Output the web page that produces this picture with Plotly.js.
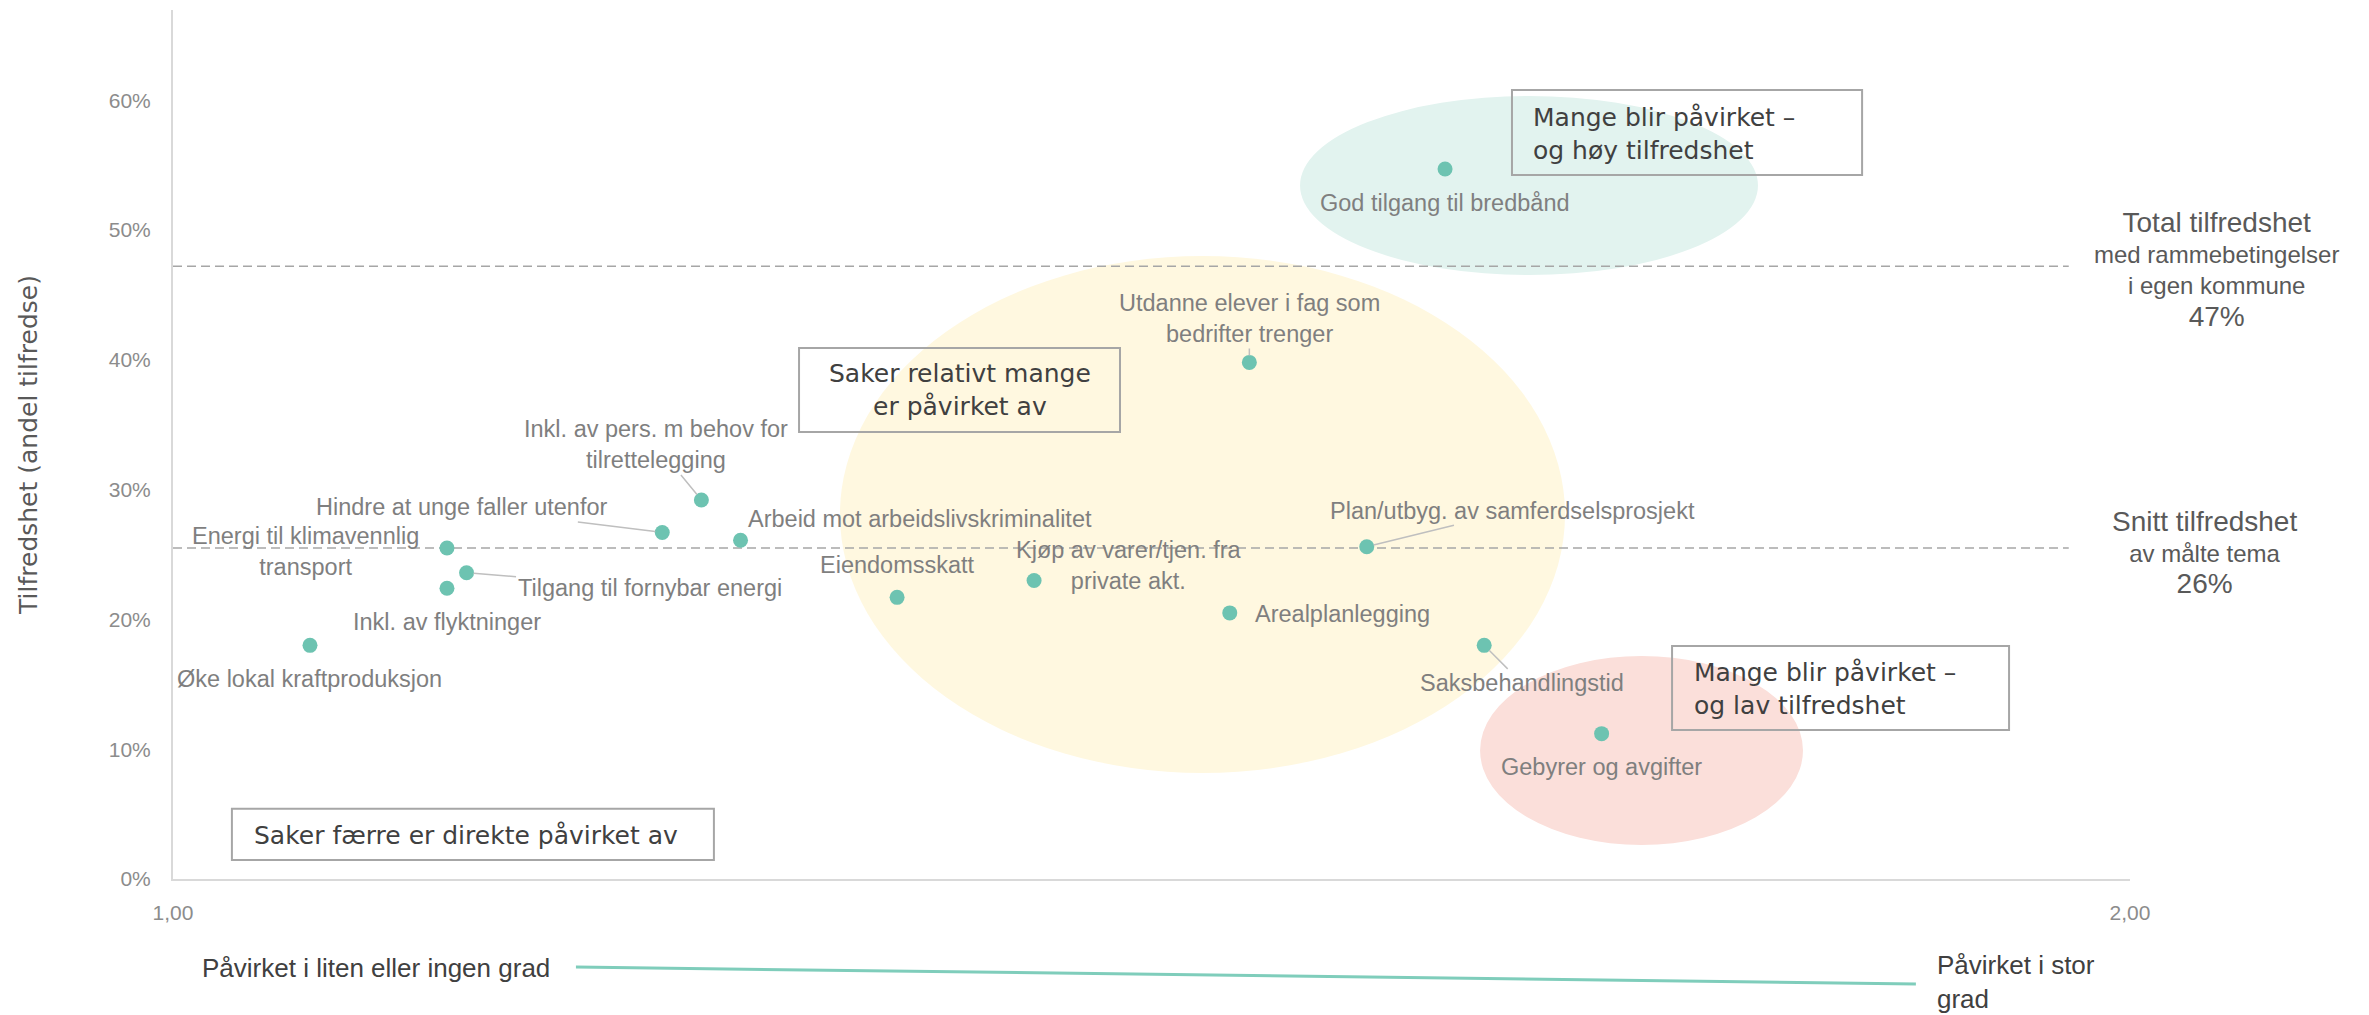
<!DOCTYPE html>
<html>
<head>
<meta charset="utf-8">
<script src="https://cdn.plot.ly/plotly-3.0.1.min.js"></script>
<style>
  html, body { margin: 0; padding: 0; background: #fff; }
  #chart { width: 2369px; height: 1015px; }
</style>
</head>
<body>
<div id="chart"></div>
<script>
// Saker: påvirkning (1-2) og andel tilfredse
const topics = [
    'God tilgang til bredbånd',
    'Utdanne elever i fag som<br>bedrifter trenger',
    'Inkl. av pers. m behov for<br>tilrettelegging',
    'Hindre at unge faller utenfor',
    'Arbeid mot arbeidslivskriminalitet',
    'Energi til klimavennlig<br>transport',
    'Tilgang til fornybar energi',
    'Inkl. av flyktninger',
    'Øke lokal kraftproduksjon',
    'Eiendomsskatt',
    'Kjøp av varer/tjen. fra<br>private akt.',
    'Arealplanlegging',
    'Plan/utbyg. av samferdselsprosjekt',
    'Saksbehandlingstid',
    'Gebyrer og avgifter'
];
const impact = [1.65, 1.55, 1.27, 1.25, 1.29, 1.14, 1.15, 1.14, 1.07, 1.37, 1.44, 1.54, 1.61, 1.67, 1.73];
const satisfaction = [0.547, 0.398, 0.292, 0.267, 0.261, 0.255, 0.236, 0.224, 0.180, 0.217, 0.230, 0.205, 0.256, 0.180, 0.112];

const totalSatisfaction = 0.472;
const avgSatisfaction = 0.255;
const yTicks = [0, 0.1, 0.2, 0.3, 0.4, 0.5, 0.6];
const xTicks = [1, 2];

// plassering av etiketter (px fra punktet) og om de har hjelpelinje
const labelPos = [
    [0, 34, false], [0, -44, true], [-45, -55, true], [-201, -25, true], [179, -21, false],
    [-141, 3, false], [183, 15, true], [0, 34, false], [0, 34, false], [0, -32, false],
    [95, -15, false], [113, 1, false], [146, -36, true], [38, 38, true], [0, 33, false]
];

const teal = '#6dc3b1';
const labelFont = { family: 'Liberation Sans, Arial, sans-serif', size: 23.5, color: '#7f7f7f' };
const boxFont = { family: 'DejaVu Sans, sans-serif', size: 25, color: '#404040' };
const sideFont = { family: 'Liberation Sans, Arial, sans-serif', size: 24, color: '#595959' };

const pointLabels = topics.map((t, i) => ({
    x: impact[i], y: satisfaction[i], xref: 'x', yref: 'y',
    text: t, showarrow: true, arrowhead: 0, arrowwidth: 1.5,
    arrowcolor: labelPos[i][2] ? '#bfbfbf' : 'rgba(0,0,0,0)',
    ax: labelPos[i][0], ay: labelPos[i][1], standoff: 7,
    align: 'center', font: labelFont
}));

const boxes = [
    { x0: 1.0301, x1: 1.2764, y0: 0.0146, y1: 0.0542 },
    { x0: 1.3199, x1: 1.4839, y0: 0.3444, y1: 0.4091 },
    { x0: 1.6842, x1: 1.8631, y0: 0.5424, y1: 0.6079 },
    { x0: 1.766, x1: 1.9382, y0: 0.1148, y1: 0.1795 }
];

const boxTexts = [
    { x: 1.0301, y: 0.0334, xshift: 20, xanchor: 'left', align: 'left', text: 'Saker færre er direkte påvirket av' },
    { x: 1.4019, y: 0.3768, xshift: 0, xanchor: 'center', align: 'center', text: 'Saker relativt mange<br>er påvirket av' },
    { x: 1.6842, y: 0.574, xshift: 19, xanchor: 'left', align: 'left', text: 'Mange blir påvirket –<br>og høy tilfredshet' },
    { x: 1.766, y: 0.1464, xshift: 20, xanchor: 'left', align: 'left', text: 'Mange blir påvirket –<br>og lav tilfredshet' }
].map(b => Object.assign({ xref: 'x', yref: 'y', showarrow: false, yanchor: 'middle', font: boxFont }, b));

const shapes = [
    { type: 'circle', xref: 'x', yref: 'y', x0: 1.5759, x1: 1.8099, y0: 0.4653, y1: 0.6032, fillcolor: '#e2f3ef', line: { width: 0 }, layer: 'below' },
    { type: 'circle', xref: 'x', yref: 'y', x0: 1.3408, x1: 1.7113, y0: 0.0817, y1: 0.48, fillcolor: '#fff8e0', line: { width: 0 }, layer: 'below' },
    { type: 'circle', xref: 'x', yref: 'y', x0: 1.6679, x1: 1.8329, y0: 0.0262, y1: 0.1718, fillcolor: '#fbdfda', line: { width: 0 }, layer: 'below' },
    { type: 'line', xref: 'x', yref: 'y', x0: 1, x1: 1.9687, y0: totalSatisfaction, y1: totalSatisfaction, line: { color: '#a6a6a6', width: 1.5, dash: '9px,5px' }, layer: 'below' },
    { type: 'line', xref: 'x', yref: 'y', x0: 1, x1: 1.9687, y0: avgSatisfaction, y1: avgSatisfaction, line: { color: '#a6a6a6', width: 1.5, dash: '9px,5px' }, layer: 'below' },
    { type: 'line', xref: 'paper', yref: 'paper', x0: 0.2059, x1: 0.8906, y0: -0.1013, y1: -0.1208, line: { color: '#7fcdbb', width: 3 } }
].concat(boxes.map(b => Object.assign({ type: 'rect', xref: 'x', yref: 'y', line: { color: '#a6a6a6', width: 2 }, fillcolor: 'rgba(0,0,0,0)', layer: 'above' }, b)));

const sideNotes = [
    {
        x: 1.044, y: totalSatisfaction, yshift: -3,
        text: '<span style="font-size:28px">Total tilfredshet</span><br>med rammebetingelser<br>i egen kommune<br><span style="font-size:28px">47%</span>'
    },
    {
        x: 1.0383, y: avgSatisfaction, yshift: -4,
        text: '<span style="font-size:28px">Snitt tilfredshet</span><br>av målte tema<br><span style="font-size:28px">26%</span>'
    }
].map(a => Object.assign({ xref: 'paper', yref: 'y', xanchor: 'center', yanchor: 'middle', align: 'center', showarrow: false, font: sideFont }, a));

const bottomNotes = [
    { x: 0.1037, y: -0.1024, xanchor: 'center', align: 'center', text: 'Påvirket i liten eller ingen grad' },
    { x: 0.9004, y: -0.118, xanchor: 'left', align: 'left', text: 'Påvirket i stor<br>grad' }
].map(a => Object.assign({ xref: 'paper', yref: 'paper', yanchor: 'middle', showarrow: false,
    font: { family: 'Liberation Sans, Arial, sans-serif', size: 26, color: '#404040' } }, a));

const trace = {
    x: impact,
    y: satisfaction,
    type: 'scatter',
    mode: 'markers',
    marker: { color: teal, size: 15 },
    hoverinfo: 'skip',
    cliponaxis: false
};

Plotly.newPlot('chart', [trace], {
    width: 2369,
    height: 1015,
    margin: { l: 173, r: 239, t: 10, b: 136 },
    paper_bgcolor: '#fff',
    plot_bgcolor: '#fff',
    separators: ', ',
    showlegend: false,
    xaxis: {
        range: [1, 2],
        tickvals: xTicks,
        tickformat: '.2f',
        showgrid: false,
        zeroline: false,
        showline: true,
        linecolor: '#d9d9d9',
        linewidth: 2,
        ticks: 'outside',
        ticklen: 14,
        tickcolor: 'rgba(0,0,0,0)',
        tickfont: { family: 'Liberation Sans, Arial, sans-serif', size: 21, color: '#8c8c8c' }
    },
    yaxis: {
        range: [0, 0.6695],
        tickvals: yTicks,
        tickformat: '.0%',
        showgrid: false,
        zeroline: false,
        showline: true,
        linecolor: '#d9d9d9',
        linewidth: 2,
        ticks: 'outside',
        ticklen: 16,
        tickcolor: 'rgba(0,0,0,0)',
        tickfont: { family: 'Liberation Sans, Arial, sans-serif', size: 21, color: '#8c8c8c' },
        title: {
            text: 'Tilfredshet (andel tilfredse)',
            standoff: 64,
            font: { family: 'DejaVu Sans, sans-serif', size: 25, color: '#595959' }
        }
    },
    shapes: shapes,
    annotations: pointLabels.concat(boxTexts, sideNotes, bottomNotes)
}, { displayModeBar: false, staticPlot: true });
</script>
</body>
</html>
